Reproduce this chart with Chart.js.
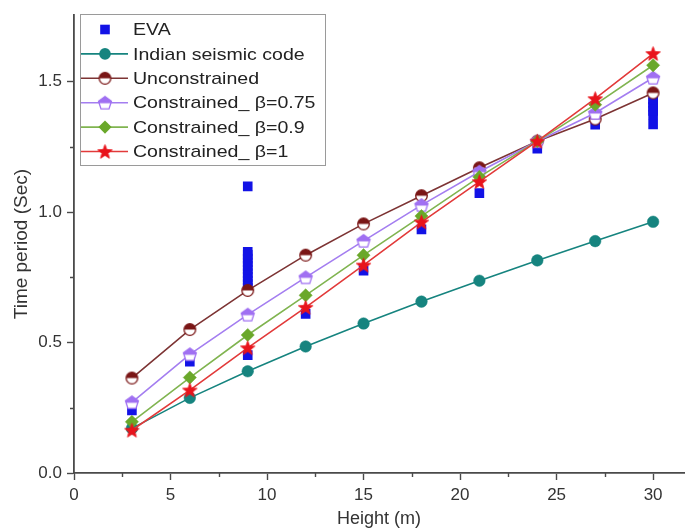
<!DOCTYPE html>
<html>
<head>
<meta charset="utf-8">
<title>Time period vs height</title>
<script src="https://cdn.jsdelivr.net/npm/chart.js@4/dist/chart.umd.min.js"></script>
<style>
  html, body { margin: 0; padding: 0; background: #fff; }
  #wrap { width: 685px; height: 528px; }
</style>
</head>
<body>
<div id="wrap"><canvas id="c" width="685" height="528"></canvas></div>
<script>
// Building height (m) for each model
const heights = [3, 6, 9, 12, 15, 18, 21, 24, 27, 30];

// Fundamental time period (s) per method
const indianCode    = [0.171, 0.288, 0.390, 0.485, 0.573, 0.657, 0.737, 0.815, 0.889, 0.963];
const unconstrained = [0.364, 0.550, 0.700, 0.835, 0.955, 1.063, 1.170, 1.272, 1.357, 1.457];
const beta075       = [0.271, 0.455, 0.607, 0.750, 0.890, 1.027, 1.155, 1.272, 1.380, 1.515];
const beta09        = [0.196, 0.366, 0.529, 0.681, 0.835, 0.985, 1.135, 1.272, 1.412, 1.563];
const beta1         = [0.164, 0.318, 0.480, 0.635, 0.797, 0.962, 1.117, 1.272, 1.435, 1.608];

// EVA results (several realisations at some heights)
const evaHeights = [3, 6,
  9, 9, 9, 9, 9, 9, 9, 9, 9, 9, 9, 9, 9,
  12, 15, 18, 21, 24, 27,
  30, 30, 30, 30, 30, 30];
const evaPeriods = [0.240, 0.427,
  0.452, 0.710, 0.724, 0.738, 0.752, 0.766, 0.780, 0.794, 0.808, 0.822, 0.836, 0.848, 1.099,
  0.610, 0.776, 0.934, 1.073, 1.243, 1.335,
  1.336, 1.372, 1.388, 1.404, 1.420, 1.432];

// Axis ticks
const xTicks = [0, 2.5, 5, 7.5, 10, 12.5, 15, 17.5, 20, 22.5, 25, 27.5, 30];
const xLabelEvery = 5;
const yTicks = [0, 0.25, 0.5, 0.75, 1.0, 1.25, 1.5];
const yLabelEvery = 0.5;

const seriesNames = ['EVA', 'Indian seismic code', 'Unconstrained',
  'Constrained_ \u03b2=0.75', 'Constrained_ \u03b2=0.9', 'Constrained_ \u03b2=1'];

const FONT = '"Liberation Sans", Arial, Helvetica, sans-serif';

// ---- marker images -------------------------------------------------------
function makeCanvas(size) {
  const cv = document.createElement('canvas');
  cv.width = size; cv.height = size;
  return cv;
}
function halfCircle(fill, stroke) {
  const s = 15, c = s / 2, r = 5.8;
  const cv = makeCanvas(s), g = cv.getContext('2d');
  g.beginPath(); g.arc(c, c, r, 0, Math.PI * 2); g.fillStyle = '#fff'; g.fill();
  g.beginPath(); g.arc(c, c, r, Math.PI, 0); g.closePath(); g.fillStyle = fill; g.fill();
  g.beginPath(); g.arc(c, c, r, 0, Math.PI * 2); g.strokeStyle = stroke; g.lineWidth = 1.3; g.stroke();
  return cv;
}
function halfPentagon(fill, stroke) {
  const s = 16, c = s / 2, r = 6.8;
  const cv = makeCanvas(s), g = cv.getContext('2d');
  const path = () => {
    g.beginPath();
    for (let k = 0; k < 5; k++) {
      const a = -Math.PI / 2 + k * 2 * Math.PI / 5;
      const px = c + r * Math.cos(a), py = c + 0.6 + r * Math.sin(a);
      k ? g.lineTo(px, py) : g.moveTo(px, py);
    }
    g.closePath();
  };
  path(); g.fillStyle = '#fff'; g.fill();
  g.save(); g.beginPath(); g.rect(0, 0, s, c + 0.6); g.clip();
  path(); g.fillStyle = fill; g.fill(); g.restore();
  path(); g.strokeStyle = stroke; g.lineWidth = 1.3; g.stroke();
  return cv;
}
function star(fill) {
  const s = 17, c = s / 2, ro = 7.6, ri = 3.2;
  const cv = makeCanvas(s), g = cv.getContext('2d');
  g.beginPath();
  for (let k = 0; k < 10; k++) {
    const a = -Math.PI / 2 + k * Math.PI / 5;
    const r = k % 2 ? ri : ro;
    const px = c + r * Math.cos(a), py = c + 0.7 + r * Math.sin(a);
    k ? g.lineTo(px, py) : g.moveTo(px, py);
  }
  g.closePath(); g.fillStyle = fill; g.fill();
  g.strokeStyle = fill; g.lineWidth = 0.8; g.stroke();
  return cv;
}

const colors = {
  eva: '#1212e6',
  indian: '#16847f',
  unc: '#7a1616', uncLine: '#7d3434',
  b075: '#a070f2', b075Line: '#a47ef0',
  b09: '#6aa82a', b09Line: '#80b450',
  b1: '#e8141c', b1Line: '#e23a3a'
};

const uncMarker = halfCircle(colors.unc, colors.unc);
const b075Marker = halfPentagon(colors.b075, colors.b075);
const b1Marker = star(colors.b1);

const toPoints = (xs, ys) => xs.map((x, i) => ({ x, y: ys[i] }));

const datasets = [
  { label: seriesNames[0], data: toPoints(evaHeights, evaPeriods), showLine: false,
    pointStyle: 'rect', pointRadius: 6.8, backgroundColor: colors.eva, borderColor: colors.eva,
    borderWidth: 0, order: 5 },
  { label: seriesNames[1], data: toPoints(heights, indianCode), showLine: true,
    pointStyle: 'circle', pointRadius: 5.8, backgroundColor: colors.indian, borderColor: colors.indian,
    pointBorderWidth: 0.5, borderWidth: 1.6, order: 4 },
  { label: seriesNames[2], data: toPoints(heights, unconstrained), showLine: true,
    pointStyle: uncMarker, backgroundColor: colors.unc, borderColor: colors.uncLine,
    borderWidth: 1.6, order: 3 },
  { label: seriesNames[3], data: toPoints(heights, beta075), showLine: true,
    pointStyle: b075Marker, backgroundColor: colors.b075, borderColor: colors.b075Line,
    borderWidth: 1.6, order: 2 },
  { label: seriesNames[4], data: toPoints(heights, beta09), showLine: true,
    pointStyle: 'rectRot', pointRadius: 6.6, backgroundColor: colors.b09, borderColor: colors.b09Line,
    pointBorderColor: colors.b09, pointBorderWidth: 0.5, borderWidth: 1.6, order: 1 },
  { label: seriesNames[5], data: toPoints(heights, beta1), showLine: true,
    pointStyle: b1Marker, backgroundColor: colors.b1, borderColor: colors.b1Line,
    borderWidth: 1.6, order: 0 }
];

// ---- minor tick marks (shorter than the major ones) ---------------------
const minorTicks = {
  id: 'minorTicks',
  afterDraw(chart) {
    const ctx = chart.ctx, len = 4;
    const xs = chart.scales.x, ys = chart.scales.y;
    ctx.save();
    ctx.strokeStyle = '#4a4a4a';
    ctx.lineWidth = 1.4;
    ctx.beginPath();
    xTicks.forEach(v => {
      if (Math.abs(v / xLabelEvery - Math.round(v / xLabelEvery)) > 1e-6) {
        const px = Math.round(xs.getPixelForValue(v)) + 0.5;
        ctx.moveTo(px, xs.top); ctx.lineTo(px, xs.top + len);
      }
    });
    yTicks.forEach(v => {
      if (Math.abs(v / yLabelEvery - Math.round(v / yLabelEvery)) > 1e-6) {
        const py = Math.round(ys.getPixelForValue(v)) + 0.5;
        ctx.moveTo(ys.right, py); ctx.lineTo(ys.right - len, py);
      }
    });
    ctx.stroke();
    ctx.restore();
  }
};

// ---- boxed legend in the upper-left of the plot -------------------------
const boxedLegend = {
  id: 'boxedLegend',
  afterDraw(chart) {
    const ctx = chart.ctx;
    const left = 80, top = 14, w = 245, h = 151;
    const firstRow = 15.5, rowGap = 24.4, sampleLen = 48, textX = left + 53;
    ctx.save();
    ctx.fillStyle = '#fff';
    ctx.fillRect(left, top, w, h);
    ctx.strokeStyle = '#9a9a9a';
    ctx.lineWidth = 1;
    ctx.strokeRect(left + 0.5, top + 0.5, w, h);
    chart.data.datasets.forEach((ds, i) => {
      const cy = top + firstRow + i * rowGap;
      const cx = left + sampleLen / 2 + 1;
      if (ds.showLine) {
        ctx.strokeStyle = ds.borderColor;
        ctx.lineWidth = 1.6;
        ctx.beginPath();
        ctx.moveTo(left + 1, cy); ctx.lineTo(left + sampleLen, cy);
        ctx.stroke();
      }
      const ps = ds.pointStyle;
      if (ps instanceof HTMLCanvasElement) {
        ctx.drawImage(ps, cx - ps.width / 2, cy - ps.height / 2);
      } else {
        ctx.fillStyle = ds.backgroundColor;
        ctx.beginPath();
        const r = ds.pointRadius;
        if (ps === 'circle') {
          ctx.arc(cx, cy, r, 0, Math.PI * 2);
        } else if (ps === 'rect') {
          const s = r * Math.SQRT1_2;
          ctx.rect(cx - s, cy - s, 2 * s, 2 * s);
        } else if (ps === 'rectRot') {
          ctx.moveTo(cx, cy - r); ctx.lineTo(cx + r, cy);
          ctx.lineTo(cx, cy + r); ctx.lineTo(cx - r, cy); ctx.closePath();
        }
        ctx.fill();
      }
      ctx.save();
      ctx.translate(textX, cy + 1);
      ctx.scale(1.15, 1);
      ctx.fillStyle = '#222';
      ctx.font = '17px ' + FONT;
      ctx.textBaseline = 'middle';
      ctx.textAlign = 'left';
      ctx.fillText(ds.label, 0, 0);
      ctx.restore();
    });
    ctx.restore();
  }
};

const axisColor = '#4a4a4a';

new Chart(document.getElementById('c'), {
  type: 'scatter',
  data: { datasets },
  plugins: [minorTicks, boxedLegend],
  options: {
    responsive: false,
    animation: false,
    events: [],
    layout: { autoPadding: false, padding: { left: 0, right: 1, top: 13, bottom: 0 } },
    plugins: { legend: { display: false }, tooltip: { enabled: false } },
    scales: {
      x: {
        type: 'linear',
        min: 0, max: 31.6,
        afterFit: s => { s.height = 55; },
        afterBuildTicks: s => { s.ticks = xTicks.map(v => ({ value: v })); },
        ticks: {
          autoSkip: false, maxRotation: 0, padding: 5,
          color: '#333', font: { family: FONT, size: 17 },
          callback: v => (Math.abs(v % xLabelEvery) < 1e-6 ? String(v) : '')
        },
        grid: {
          drawOnChartArea: false, drawTicks: true, tickLength: 7, tickWidth: 1.4,
          tickColor: c => (c.tick && Math.abs(c.tick.value % xLabelEvery) < 1e-6 ? axisColor : 'rgba(0,0,0,0)')
        },
        border: { display: true, color: axisColor, width: 1.8 },
        title: {
          display: true, text: 'Height (m)', color: '#333',
          font: { family: FONT, size: 18, lineHeight: 1 }, padding: { top: 0, bottom: 0 }
        }
      },
      y: {
        type: 'linear',
        min: 0, max: 1.755,
        afterFit: s => { s.width = 74; },
        afterBuildTicks: s => { s.ticks = yTicks.map(v => ({ value: v })); },
        ticks: {
          autoSkip: false, padding: 5,
          color: '#333', font: { family: FONT, size: 17 },
          callback: v => {
            const q = v / yLabelEvery;
            return Math.abs(q - Math.round(q)) < 1e-6 ? v.toFixed(1) : '';
          }
        },
        grid: {
          drawOnChartArea: false, drawTicks: true, tickLength: 7, tickWidth: 1.4,
          tickColor: c => {
            if (!c.tick) return axisColor;
            const q = c.tick.value / yLabelEvery;
            return Math.abs(q - Math.round(q)) < 1e-6 ? axisColor : 'rgba(0,0,0,0)';
          }
        },
        border: { display: true, color: axisColor, width: 1.8 },
        title: {
          display: true, text: 'Time period (Sec)', color: '#333',
          font: { family: FONT, size: 19, lineHeight: 1 }, padding: { top: 12.5, bottom: 0 }
        }
      }
    }
  }
});
</script>
</body>
</html>
